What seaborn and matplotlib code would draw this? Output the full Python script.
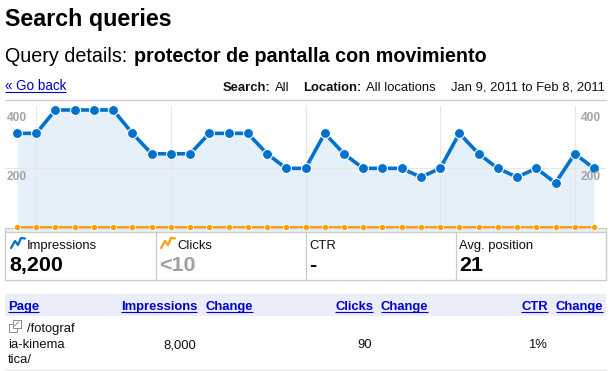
import matplotlib
import numpy as np
import pandas as pd
import seaborn as sns

matplotlib.use("Agg")
import matplotlib.pyplot as plt
from matplotlib.patches import Rectangle

W, H = 613, 371

DAY = list(range(31))
IMPRESSIONS = [320, 320, 400, 400, 400, 400, 320, 250, 250, 250, 320, 320, 320, 250, 200, 200,
               320, 250, 200, 200, 200, 170, 200, 320, 250, 200, 170, 200, 150, 250, 200]
CLICKS = [0] * 31
WEEK_TICKS = [1, 8, 15, 22, 29]
Y_LABELS = [200, 400]

CARD_TITLES = ["Impressions", "Clicks", "CTR", "Avg. position"]
CARD_VALUES = ["8,200", "<10", "-", "21"]
TABLE_HEADERS = ["Page", "Impressions", "Change", "Clicks", "Change", "CTR", "Change"]
PAGE_LINES = ["/fotograf", "ia-kinema", "tica/"]
ROW_VALUES = ["8,000", "90", "1%"]

BLUE = "#0072CE"
ORANGE = "#FF9F0F"
LINK = "#0000CC"
BORDER = "#CCCCCC"


def px(size):
    return size * 0.72


def label(ax, x, y, text, size=13, weight="normal", color="#111111", ha="left", va="baseline"):
    return ax.text(x, y, text, fontsize=px(size), fontweight=weight, color=color, ha=ha, va=va)


def link(ax, x, y, text, size=13, weight="bold", ha="left"):
    t = label(ax, x, y, text, size=size, weight=weight, color=LINK, ha=ha)
    box = t.get_window_extent(ax.figure.canvas.get_renderer())
    ax.plot([box.x0, box.x1], [y + 2, y + 2], color=LINK, lw=0.8, solid_capstyle="butt")
    return t


def draw_chart(fig):
    left, right, top, bottom = 5, 606, 106, 229
    ax = fig.add_axes([left / W, 1 - bottom / H, (right - left) / W, (bottom - top) / H])
    ax.set_facecolor("none")
    df = pd.DataFrame({"day": DAY, "impressions": IMPRESSIONS, "clicks": CLICKS})

    ax.fill_between(df["day"], df["impressions"], color="#E5F0FA", lw=0, zorder=1)
    sns.lineplot(data=df, x="day", y="impressions", ax=ax, color=BLUE, lw=2.6, marker="o",
                 markersize=7.2, markeredgecolor="white", markeredgewidth=0.8, zorder=4)
    sns.lineplot(data=df, x="day", y="clicks", ax=ax, color=ORANGE, lw=1.5, marker="o",
                 markersize=4.4, markeredgecolor="white", markeredgewidth=0.5, zorder=5, clip_on=False)

    ax.set_xlim(-12 / 19.23, 30 + 12 / 19.23)
    ax.set_ylim(-7.9, 413.7)
    ax.set_xticks(WEEK_TICKS)
    ax.set_yticks([200])
    ax.grid(True, color="#E6E6E6", lw=0.8, zorder=2)
    ax.set_axisbelow(False)
    ax.tick_params(length=0, labelbottom=False, labelleft=False)
    ax.set_xlabel("")
    ax.set_ylabel("")
    sns.despine(ax=ax, left=True, bottom=True)

    for value in Y_LABELS:
        for frac, offset, ha in [(0, 2, "left"), (1, -5, "right")]:
            ax.annotate(str(value), xy=(frac, value), xycoords=("axes fraction", "data"),
                        xytext=(offset, -8.5), textcoords="offset pixels", ha=ha, va="center",
                        fontsize=px(12), fontweight="bold", color="#A5A5A5", zorder=6)


def draw_page(ax):
    label(ax, 5, 26, "Search queries", size=23.3, weight="bold", color="black")
    label(ax, 5, 62, "Query details:", size=19.8, color="black")
    label(ax, 134, 62, "protector de pantalla con movimiento", size=19.8, weight="bold", color="black")

    link(ax, 5, 90, "« Go back", size=13.5, weight="normal")
    label(ax, 223, 91, "Search:", weight="bold")
    label(ax, 275, 91, "All")
    label(ax, 303, 91, "Location:", weight="bold")
    label(ax, 366, 91, "All locations")
    label(ax, 605, 91, "Jan 9, 2011 to Feb 8, 2011", ha="right")
    ax.plot([5, 606], [99.5, 99.5], color=BORDER, lw=0.9)

    # metric cards
    card_x = [5, 155.5, 305.5, 455.5, 605.5]
    ax.add_patch(Rectangle((5, 227.5), 600.5, 52.5, fc="#EDEDED", ec=BORDER, lw=0.9))
    ax.add_patch(Rectangle((5, 231.5), 600.5, 48.5, fc="white", ec=BORDER, lw=0.9))
    for x in card_x[1:-1]:
        ax.plot([x, x], [231.5, 280], color=BORDER, lw=0.9)
    title_x = [27, 177, 309, 459]
    value_color = ["black", "#A0A0A0", "black", "black"]
    for x, title in zip(title_x, CARD_TITLES):
        label(ax, x, 249, title, size=13)
    for x, value, color in zip([9, 159, 309, 459], CARD_VALUES, value_color):
        label(ax, x, 271, value, size=21.5, weight="bold", color=color)

    # little trend icons next to the card titles
    for x0, color in [(11, BLUE), (161, ORANGE)]:
        ax.plot(x0 + np.array([0, 4, 7, 10, 14]), [248, 241, 245, 238, 238.5], color=color, lw=1.6)

    # table
    ax.add_patch(Rectangle((5, 294), 601, 21.5, fc="#EBEDF9", ec="none"))
    header_x = [8, 197, 253, 373, 428, 548, 603]
    header_ha = ["left", "right", "right", "right", "right", "right", "right"]
    for x, text, ha in zip(header_x, TABLE_HEADERS, header_ha):
        link(ax, x, 310, text, ha=ha)
    for y, x, text in zip([332, 348, 363], [27, 8, 8], PAGE_LINES):
        label(ax, x, y, text)
    for x, text in zip([196, 372, 547], ROW_VALUES):
        label(ax, x, 348, text, ha="right")
    ax.plot([5, 606], [370, 370], color="#E6E6E6", lw=0.9)

    # external link icon
    ax.add_patch(Rectangle((8.5, 323.5), 8, 8, fc="white", ec="#8A8A8A", lw=0.7))
    ax.add_patch(Rectangle((12.5, 320), 8, 8, fc="white", ec="#8A8A8A", lw=0.7))
    ax.plot([14.5, 18.5], [326, 322], color="#8A8A8A", lw=0.7)


def main():
    sns.set_theme(style="white")
    plt.rcParams["font.family"] = ["Liberation Sans", "DejaVu Sans"]
    fig = plt.figure(figsize=(W / 100, H / 100), dpi=100, facecolor="white")
    page = fig.add_axes([0, 0, 1, 1])
    page.set_xlim(0, W)
    page.set_ylim(H, 0)
    page.axis("off")
    fig.canvas.draw()
    draw_page(page)
    draw_chart(fig)
    fig.savefig("out.png", dpi=100)
    plt.close(fig)


if __name__ == "__main__":
    main()
